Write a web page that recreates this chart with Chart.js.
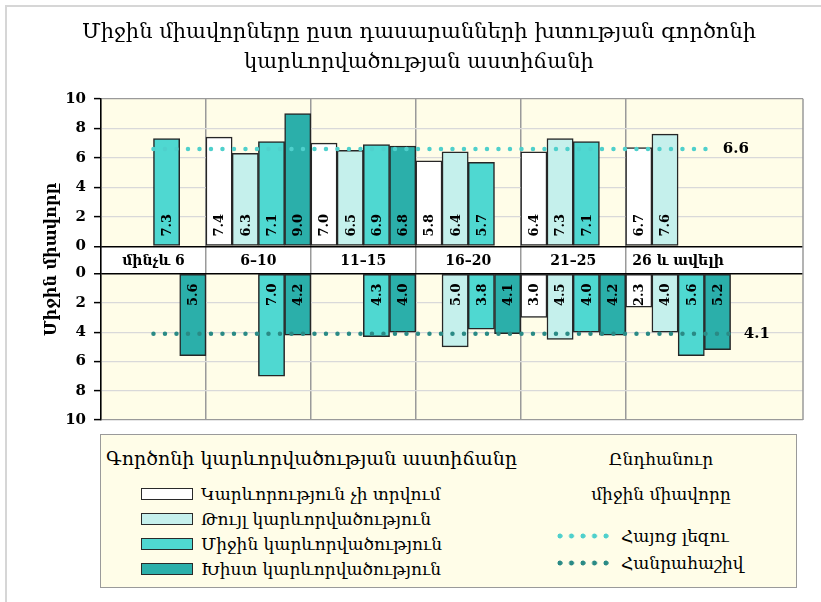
<!DOCTYPE html>
<html>
<head>
<meta charset="utf-8">
<script src="https://cdn.jsdelivr.net/npm/chart.js@4.4.0/dist/chart.umd.min.js"></script>
<style>
  body { margin: 0; background: #fff; }
  #wrap { position: relative; width: 821px; height: 602px; }
  #frame { position: absolute; left: 5px; top: 5px; right: 0; bottom: 0; border-top: 2px solid #d6d6d6; border-left: 2px solid #d6d6d6; }
  #chart { position: absolute; left: 0; top: 0; }
  #legend { position: absolute; left: 100px; top: 434px; width: 695px; height: 152px; background: #fffde8; border: 1.5px solid #9a9a9a; font-family: "DejaVu Serif", serif; color: #000; }
  #legend div { position: absolute; white-space: nowrap; }
  .lg-title { left: 5px; top: 11px; font-size: 19px; line-height: 24px; }
  .sw { width: 50px; height: 10px; border: 1.5px solid #2a2a2a; }
  .item { font-size: 17px; line-height: 22px; }
  .avg-title { left: 450px; width: 220px; top: 7px; font-size: 17px; line-height: 35px; text-align: center; }
  .dots { width: 56px; height: 6px; background-size: 11.5px 6px; background-repeat: repeat-x; }
</style>
</head>
<body>
<div id="wrap">
  <div id="frame"></div>
  <canvas id="chart" width="821" height="602"></canvas>
  <div id="legend"></div>
</div>
<script>
const chartTitle = ['Միջին միավորները ըստ դասարանների խտության գործոնի', 'կարևորվածության աստիճանի'];
const yTitle = 'Միջին միավորը';
const categories = ['մինչև 6', '6–10', '11–15', '16–20', '21–25', '26 և ավելի'];
const levelTitle = 'Գործոնի կարևորվածության աստիճանը';
const levels = ['Կարևորություն չի տրվում', 'Թույլ կարևորվածություն', 'Միջին կարևորվածություն', 'Խիստ կարևորվածություն'];

// Հայոց լեզու (upper panel)
const armenianNone   = [null, 7.4, 7.0, 5.8, 6.4, 6.7];
const armenianWeak   = [null, 6.3, 6.5, 6.4, 7.3, 7.6];
const armenianMedium = [7.3, 7.1, 6.9, 5.7, 7.1, null];
const armenianStrong = [null, 9.0, 6.8, null, null, null];

// Հանրահաշիվ (lower panel)
const algebraNone   = [null, null, null, null, 3.0, 2.3];
const algebraWeak   = [null, null, null, 5.0, 4.5, 4.0];
const algebraMedium = [null, 7.0, 4.3, 3.8, 4.0, 5.6];
const algebraStrong = [5.6, 4.2, 4.0, 4.1, 4.2, 5.2];

const avgTitle = ['Ընդհանուր', 'միջին միավորը'];
const subjects = ['Հայոց լեզու', 'Հանրահաշիվ'];
const subjectAverages = [6.6, 4.1];
const avgSpans = [[0, 5.35], [0, 5.55]];

const yTicks = [0, 2, 4, 6, 8, 10];

const levelColors = ['#ffffff', '#c5f0ec', '#4fd8d1', '#2bafaa'];
const avgColors = ['#4fd0cc', '#2a8a85'];
const serif = '"DejaVu Serif", serif';

const toPoints = arr => arr.map((v, i) => ({ x: i, y: v })).filter(p => p.y !== null);

function barSet(values, level, axis) {
  return {
    type: 'bar',
    label: levels[level],
    data: toPoints(values),
    yAxisID: axis,
    stack: 's' + level,
    backgroundColor: levelColors[level],
    borderColor: '#262626',
    borderWidth: 1.5,
    borderSkipped: false,
    categoryPercentage: 1,
    barPercentage: 1,
    order: 1
  };
}

function avgSet(k, axis) {
  return {
    type: 'line',
    label: subjects[k],
    data: avgSpans[k].map(x => ({ x: x, y: subjectAverages[k] })),
    yAxisID: axis,
    borderColor: avgColors[k],
    borderWidth: 4.5,
    borderDash: [0, 11.5],
    borderCapStyle: 'round',
    pointRadius: 0,
    order: 0
  };
}

const datasets = [
  barSet(armenianNone, 0, 'yTop'),
  barSet(armenianWeak, 1, 'yTop'),
  barSet(armenianMedium, 2, 'yTop'),
  barSet(armenianStrong, 3, 'yTop'),
  barSet(algebraNone, 0, 'yBot'),
  barSet(algebraWeak, 1, 'yBot'),
  barSet(algebraMedium, 2, 'yBot'),
  barSet(algebraStrong, 3, 'yBot'),
  avgSet(0, 'yTop'),
  avgSet(1, 'yBot')
];

function panelGrid(ctx) {
  const v = ctx.tick && ctx.tick.value;
  if (v === 0) return '#000';
  if (v === 10) return '#9a9a9a';
  return '#d9d9d9';
}

function panelScale(weight, stackWeight, reverse) {
  return {
    type: 'linear',
    position: 'left',
    stack: 'panels',
    stackWeight: stackWeight,
    weight: weight,
    reverse: reverse,
    min: 0,
    max: 10,
    afterBuildTicks: s => { s.ticks = yTicks.map(v => ({ value: v })); },
    afterFit: s => { s.width = 66; },
    ticks: { color: '#000', padding: 8, autoSkip: false, font: { family: serif, size: 15, weight: 'bold' } },
    grid: { color: panelGrid, lineWidth: c => (c.tick && c.tick.value === 0 ? 1.5 : 1.2), tickColor: '#000', tickLength: 7, tickWidth: 1.5 },
    border: { color: '#000', width: 1.5 }
  };
}

const panelsPlugin = {
  id: 'panels',
  beforeDraw(chart) {
    const { ctx, chartArea: a, scales } = chart;
    ctx.save();
    ctx.fillStyle = '#fffde8';
    ctx.fillRect(a.left, scales.yTop.top, a.width, scales.yTop.height);
    ctx.fillRect(a.left, scales.yBot.top, a.width, scales.yBot.height);
    ctx.fillStyle = '#ffffff';
    ctx.fillRect(a.left, scales.yMid.top, a.width, scales.yMid.height);
    ctx.restore();
  },
  beforeDatasetsDraw(chart) {
    const { ctx, chartArea: a } = chart;
    ctx.save();
    ctx.strokeStyle = '#9a9a9a';
    ctx.lineWidth = 1.5;
    ctx.beginPath();
    ctx.moveTo(a.right, a.top);
    ctx.lineTo(a.right, a.bottom);
    ctx.stroke();
    ctx.restore();
  },
  afterDatasetsDraw(chart) {
    const { ctx, scales } = chart;
    ctx.save();
    ctx.fillStyle = '#000';

    // values inside the bars, rotated
    ctx.font = 'bold 13px ' + serif;
    ctx.textBaseline = 'middle';
    chart.data.datasets.forEach((ds, di) => {
      if (ds.type !== 'bar') return;
      const meta = chart.getDatasetMeta(di);
      const top = ds.yAxisID === 'yTop';
      meta.data.forEach((el, i) => {
        const v = ds.data[i].y;
        ctx.save();
        ctx.translate(el.x, top ? el.base - 9 : el.base + 9);
        ctx.rotate(-Math.PI / 2);
        ctx.textAlign = top ? 'left' : 'right';
        ctx.fillText(v.toFixed(1), 0, 1);
        ctx.restore();
      });
    });

    // category labels in the middle band
    const band = scales.yMid;
    ctx.font = 'bold 14px ' + serif;
    ctx.textAlign = 'center';
    categories.forEach((c, i) => {
      ctx.fillText(c, scales.x.getPixelForValue(i), (band.top + band.bottom) / 2 + 1);
    });

    // average values at the end of the dotted lines
    ctx.font = 'bold 15px ' + serif;
    ctx.textAlign = 'left';
    chart.data.datasets.forEach((ds, di) => {
      if (ds.type !== 'line') return;
      const pts = chart.getDatasetMeta(di).data;
      const last = pts[pts.length - 1];
      ctx.fillText(ds.data[0].y.toFixed(1), last.x + 8, last.y);
    });

    // y axis title
    ctx.font = 'bold 16px ' + serif;
    ctx.textAlign = 'center';
    ctx.translate(52, (chart.chartArea.top + chart.chartArea.bottom) / 2);
    ctx.rotate(-Math.PI / 2);
    ctx.fillText(yTitle, 0, 0);
    ctx.restore();
  }
};

const chart = new Chart(document.getElementById('chart'), {
  type: 'bar',
  data: { datasets: datasets },
  options: {
    responsive: false,
    animation: false,
    events: [],
    layout: { padding: { top: 10, left: 35, right: 18, bottom: 182 } },
    plugins: {
      legend: { display: false },
      tooltip: { enabled: false },
      title: {
        display: true,
        text: chartTitle,
        color: '#000',
        font: { family: serif, size: 21, weight: 'normal', lineHeight: 1.4 },
        padding: { top: 8, bottom: 22 }
      }
    },
    scales: {
      x: {
        type: 'linear',
        position: 'bottom',
        offset: false,
        min: -0.5,
        max: 6.19,
        afterBuildTicks: s => { s.ticks = categories.map((c, i) => ({ value: i - 0.5 })); },
        ticks: { display: false },
        grid: { offset: false, color: '#9a9a9a', lineWidth: 1.5, drawTicks: false },
        border: { display: false }
      },
      yTop: panelScale(3, 147.4, false),
      yMid: {
        type: 'linear',
        position: 'left',
        stack: 'panels',
        stackWeight: 27.3,
        weight: 2,
        min: 0,
        max: 1,
        afterFit: s => { s.width = 66; },
        ticks: { display: false },
        grid: { display: false },
        border: { color: '#000', width: 1.5 }
      },
      yBot: panelScale(1, 146.3, true)
    }
  },
  plugins: [panelsPlugin]
});

// legend built from the chart's datasets
const legend = document.getElementById('legend');
let html = '<div class="lg-title">' + levelTitle + '</div>';
chart.data.datasets.slice(0, 4).forEach((ds, i) => {
  const cy = 59 + i * 25;
  html += '<div class="sw" style="left:40px;top:' + (cy - 6) + 'px;background:' + ds.backgroundColor + '"></div>';
  html += '<div class="item" style="left:100px;top:' + (cy - 11) + 'px">' + ds.label + '</div>';
});
html += '<div class="avg-title">' + avgTitle.join('<br>') + '</div>';
chart.data.datasets.filter(ds => ds.type === 'line').forEach((ds, i) => {
  const cy = 101 + i * 27;
  html += '<div class="dots" style="left:456px;top:' + (cy - 3) + 'px;background-image:radial-gradient(circle at 3px 3px,' + ds.borderColor + ' 2.2px, transparent 2.8px)"></div>';
  html += '<div class="item" style="left:520px;top:' + (cy - 11) + 'px">' + ds.label + '</div>';
});
legend.innerHTML = html;
</script>
</body>
</html>
